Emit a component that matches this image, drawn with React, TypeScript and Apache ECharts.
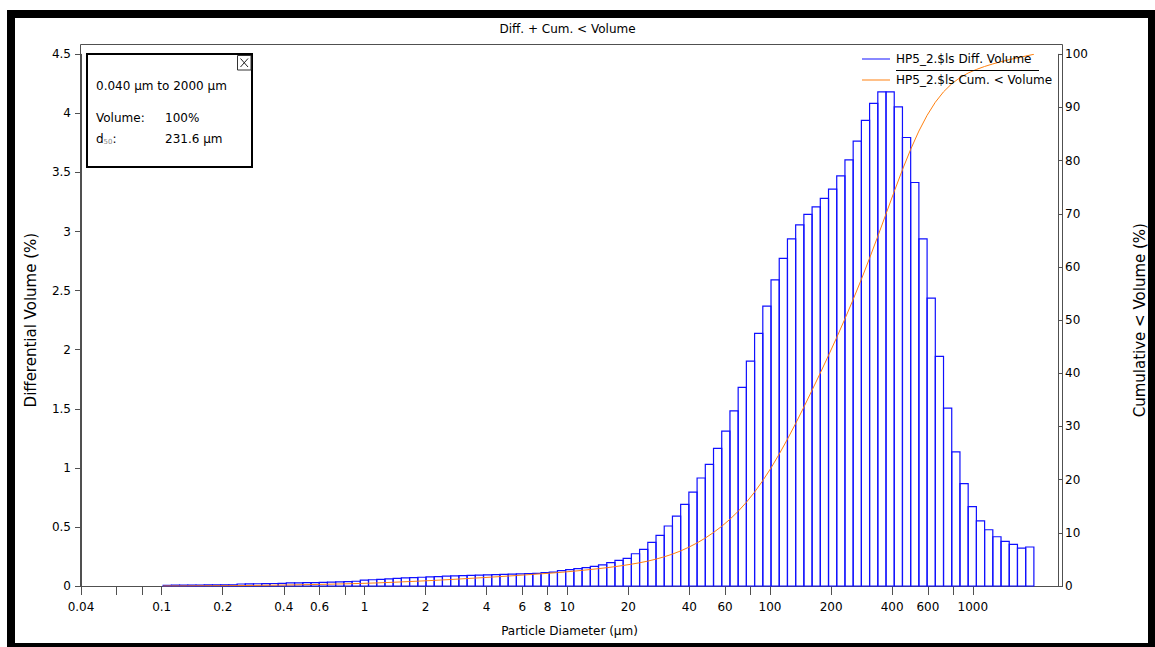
import React, { useEffect, useRef } from "react";
import * as echarts from "echarts";

// Instrument channel definition (LS 13 320: 116 geometric channels, 0.04–2000 µm)
const CHANNEL_MIN_UM = 0.04;
const CHANNEL_MAX_UM = 2000;
const CHANNEL_COUNT = 116;
const FIRST_SHOWN_CHANNEL = 10;

// Differential volume (%) per channel, channels 10..115
const DIFF_VOLUME = [
  0.006, 0.007, 0.007, 0.008, 0.008, 0.009, 0.009, 0.010, 0.010,
  0.017, 0.018, 0.019, 0.020, 0.021, 0.022,
  0.026, 0.027, 0.028, 0.029,
  0.031, 0.033, 0.035, 0.037,
  0.040, 0.050, 0.053, 0.056,
  0.061, 0.064, 0.068, 0.071, 0.074, 0.077, 0.080, 0.083,
  0.086, 0.088, 0.090, 0.092, 0.094, 0.096, 0.098, 0.100, 0.102, 0.104,
  0.107, 0.113, 0.118, 0.130, 0.138, 0.147, 0.155, 0.166, 0.178, 0.197, 0.217, 0.234,
  0.273, 0.310, 0.370, 0.429, 0.508, 0.592, 0.691, 0.795, 0.914, 1.029, 1.165, 1.311, 1.483,
  1.681, 1.904, 2.138, 2.369, 2.591, 2.772, 2.938, 3.057, 3.145, 3.209, 3.280, 3.359, 3.471, 3.607, 3.765, 3.940,
  4.084, 4.182, 4.182, 4.055, 3.796, 3.415, 2.938, 2.437, 1.943, 1.506, 1.136, 0.866, 0.671, 0.552, 0.476, 0.417,
  0.378, 0.353, 0.321, 0.330,
];

// Cumulative < volume (%) at the upper edge of channels 10..115
const CUM_VOLUME = [
  0.01, 0.01, 0.02, 0.03, 0.04, 0.05, 0.05, 0.06, 0.07,
  0.09, 0.11, 0.13, 0.15, 0.17, 0.19,
  0.22, 0.25, 0.27, 0.30,
  0.33, 0.37, 0.40, 0.44,
  0.48, 0.53, 0.58, 0.64,
  0.70, 0.77, 0.84, 0.91, 0.98, 1.06, 1.14, 1.22,
  1.31, 1.40, 1.49, 1.58, 1.68, 1.77, 1.87, 1.97, 2.08, 2.18,
  2.29, 2.40, 2.52, 2.65, 2.79, 2.94, 3.10, 3.26, 3.44, 3.64, 3.86, 4.10,
  4.37, 4.68, 5.06, 5.49, 6.00, 6.60, 7.30, 8.10, 9.02, 10.06, 11.23, 12.55, 14.05,
  15.74, 17.66, 19.82, 22.20, 24.82, 27.61, 30.57, 33.65, 36.83, 40.06, 43.37, 46.75, 50.25, 53.89, 57.68, 61.66,
  65.77, 69.99, 74.20, 78.29, 82.12, 85.56, 88.52, 90.98, 92.94, 94.46, 95.60, 96.48, 97.15, 97.71, 98.19, 98.61,
  98.99, 99.35, 99.67, 100.0,
];

const X_LABELS = [0.04, 0.1, 0.2, 0.4, 0.6, 1, 2, 4, 6, 8, 10, 20, 40, 60, 100, 200, 400, 600, 1000];
const X_TICKS = [0.04, 0.06, 0.08, 0.1, 0.2, 0.4, 0.6, 0.8, 1, 2, 4, 6, 8, 10, 20, 40, 60, 80, 100, 200, 400, 600, 800, 1000];

const SERIES_DIFF = "HP5_2.$ls Diff. Volume";
const SERIES_CUM = "HP5_2.$ls Cum. < Volume";
const TITLE = "Diff. + Cum. < Volume";
const RANGE_TEXT = "0.040 µm to 2000 µm";
const VOLUME_TEXT = "100%";
const D50_TEXT = "231.6 µm";

const FONT = '"DejaVu Sans", Verdana, sans-serif';
const AXIS_COLOR = "#505050";
const BLUE = "#1010ff";
const ORANGE = "#ff8010";

export default function App() {
  const ref = useRef<HTMLDivElement>(null);

  useEffect(() => {
    const el = ref.current;
    if (!el) return;
    const chart = echarts.init(el, null, { renderer: "svg" });
    const edge = (k: number) =>
      CHANNEL_MIN_UM * Math.pow(CHANNEL_MAX_UM / CHANNEL_MIN_UM, k / CHANNEL_COUNT);
    const barData = DIFF_VOLUME.map((v, j) => [
      edge(FIRST_SHOWN_CHANNEL + j),
      edge(FIRST_SHOWN_CHANNEL + j + 1),
      v,
    ]);
    const cumData = [[edge(FIRST_SHOWN_CHANNEL), 0]].concat(
      CUM_VOLUME.map((c, j) => [edge(FIRST_SHOWN_CHANNEL + j + 1), c])
    );
    const fmt = (v: any) => String(Number(Number(v).toPrecision(6)));
    const txt = { fontFamily: FONT, fontSize: 12, color: "#000" };

    chart.setOption({
      animation: false,
      backgroundColor: "transparent",
      textStyle: { fontFamily: FONT },
      grid: { left: 81, right: 92, top: 54.3, bottom: 61, containLabel: false },
      legend: {
        show: true,
        orient: "vertical",
        left: 862,
        top: 52,
        padding: 0,
        itemWidth: 28,
        itemHeight: 1,
        itemGap: 7,
        selectedMode: false,
        textStyle: { ...txt, lineHeight: 14, padding: [0, 0, 0, 1] },
        data: [
          { name: SERIES_DIFF, icon: "rect", itemStyle: { color: BLUE } },
          { name: SERIES_CUM, icon: "rect", itemStyle: { color: ORANGE } },
        ],
      },
      xAxis: {
        type: "log",
        logBase: 10,
        min: 0.04,
        max: 2630,
        name: "Particle Diameter (µm)",
        nameLocation: "middle",
        nameGap: 39,
        nameTextStyle: { ...txt },
        axisLine: { show: true, lineStyle: { color: AXIS_COLOR, width: 1 } },
        axisTick: {
          show: true,
          inside: false,
          length: 9,
          customValues: X_TICKS,
          lineStyle: { color: AXIS_COLOR },
        },
        axisLabel: {
          show: true,
          customValues: X_LABELS,
          margin: 15,
          formatter: fmt,
          ...txt,
        },
        splitLine: { show: false },
        minorTick: { show: false },
      },
      yAxis: [
        {
          type: "value",
          min: 0,
          max: 4.5,
          interval: 0.5,
          position: "left",
          name: "Differential Volume (%)",
          nameLocation: "middle",
          nameGap: 43,
          nameRotate: 90,
          nameTextStyle: { fontFamily: FONT, fontSize: 15, color: "#000" },
          axisLine: { show: true, lineStyle: { color: AXIS_COLOR } },
          axisTick: { show: true, inside: false, length: 6, lineStyle: { color: AXIS_COLOR } },
          axisLabel: { margin: 10, ...txt },
          splitLine: { show: false },
        },
        {
          type: "value",
          min: 0,
          max: 100,
          interval: 10,
          position: "right",
          name: "Cumulative < Volume (%)",
          nameLocation: "middle",
          nameGap: 74,
          nameRotate: 90,
          nameTextStyle: { fontFamily: FONT, fontSize: 15, color: "#000" },
          axisLine: { show: true, lineStyle: { color: AXIS_COLOR } },
          axisTick: { show: true, inside: false, length: 5, lineStyle: { color: AXIS_COLOR } },
          axisLabel: { margin: 7, ...txt },
          splitLine: { show: false },
        },
      ],
      series: [
        {
          name: SERIES_DIFF,
          type: "custom",
          xAxisIndex: 0,
          yAxisIndex: 0,
          itemStyle: { color: BLUE },
          encode: { x: [0, 1], y: 2 },
          data: barData,
          renderItem: (params: any, api: any) => {
            const p0 = api.coord([api.value(0), api.value(2)]);
            const p1 = api.coord([api.value(1), 0]);
            return {
              type: "rect",
              shape: { x: p0[0], y: p0[1], width: p1[0] - p0[0], height: p1[1] - p0[1] },
              style: { fill: "none", stroke: BLUE, lineWidth: 1.2 },
            };
          },
          z: 2,
        },
        {
          name: SERIES_CUM,
          type: "line",
          xAxisIndex: 0,
          yAxisIndex: 1,
          data: cumData,
          showSymbol: false,
          symbol: "none",
          color: ORANGE,
          lineStyle: { color: ORANGE, width: 1 },
          z: 3,
        },
      ],
      graphic: [
        {
          type: "polyline",
          silent: true,
          shape: { points: [[80.5, 586], [80.5, 44.5], [1062.5, 44.5], [1062.5, 586]] },
          style: { stroke: AXIS_COLOR, lineWidth: 1, fill: "none" },
          z: 1,
        },
        {
          type: "text",
          x: 567.5,
          y: 29,
          style: { text: TITLE, fill: "#000", font: `12px ${FONT}`, align: "center", verticalAlign: "middle" },
        },
        {
          type: "line",
          shape: { x1: 896, y1: 70.5, x2: 1039, y2: 70.5 },
          style: { stroke: "#000", lineWidth: 1 },
          z: 10,
        },
        {
          type: "group",
          z: 20,
          children: [
            {
              type: "rect",
              shape: { x: 87, y: 54, width: 165, height: 113 },
              style: { fill: "#fff", stroke: "#000", lineWidth: 2 },
            },
            {
              type: "rect",
              shape: { x: 237.5, y: 55.5, width: 13.5, height: 14.5 },
              style: { fill: "#fff", stroke: "#333", lineWidth: 1 },
            },
            {
              type: "line",
              shape: { x1: 240.5, y1: 58.5, x2: 248, y2: 67 },
              style: { stroke: "#222", lineWidth: 1 },
            },
            {
              type: "line",
              shape: { x1: 248, y1: 58.5, x2: 240.5, y2: 67 },
              style: { stroke: "#222", lineWidth: 1 },
            },
            {
              type: "text",
              x: 96,
              y: 86,
              style: { text: RANGE_TEXT, fill: "#000", font: `12px ${FONT}`, verticalAlign: "middle" },
            },
            {
              type: "text",
              x: 96,
              y: 118,
              style: { text: "Volume:", fill: "#000", font: `12px ${FONT}`, verticalAlign: "middle" },
            },
            {
              type: "text",
              x: 165,
              y: 118,
              style: { text: VOLUME_TEXT, fill: "#000", font: `12px ${FONT}`, verticalAlign: "middle" },
            },
            {
              type: "text",
              x: 96,
              y: 139,
              style: {
                text: "{d|d}{s|50}{d|:}",
                verticalAlign: "middle",
                rich: {
                  d: { fontFamily: FONT, fontSize: 12, fill: "#000", color: "#000" },
                  s: { fontFamily: FONT, fontSize: 7, fill: "#888", color: "#888", verticalAlign: "bottom" },
                },
              },
            },
            {
              type: "text",
              x: 165,
              y: 139,
              style: { text: D50_TEXT, fill: "#000", font: `12px ${FONT}`, verticalAlign: "middle" },
            },
          ],
        },
      ],
    });

    return () => {
      chart.dispose();
    };
  }, []);

  return (
    <div
      style={{
        position: "fixed",
        left: 0,
        top: 0,
        width: 1155,
        height: 647,
        overflow: "hidden",
        background: "#fff",
      }}
    >
      <div
        style={{
          position: "absolute",
          left: 7,
          top: 10,
          width: 1149,
          height: 641,
          boxSizing: "border-box",
          border: "8px solid #000",
        }}
      />
      <div ref={ref} style={{ position: "absolute", left: 0, top: 0, width: 1155, height: 647 }} />
    </div>
  );
}
